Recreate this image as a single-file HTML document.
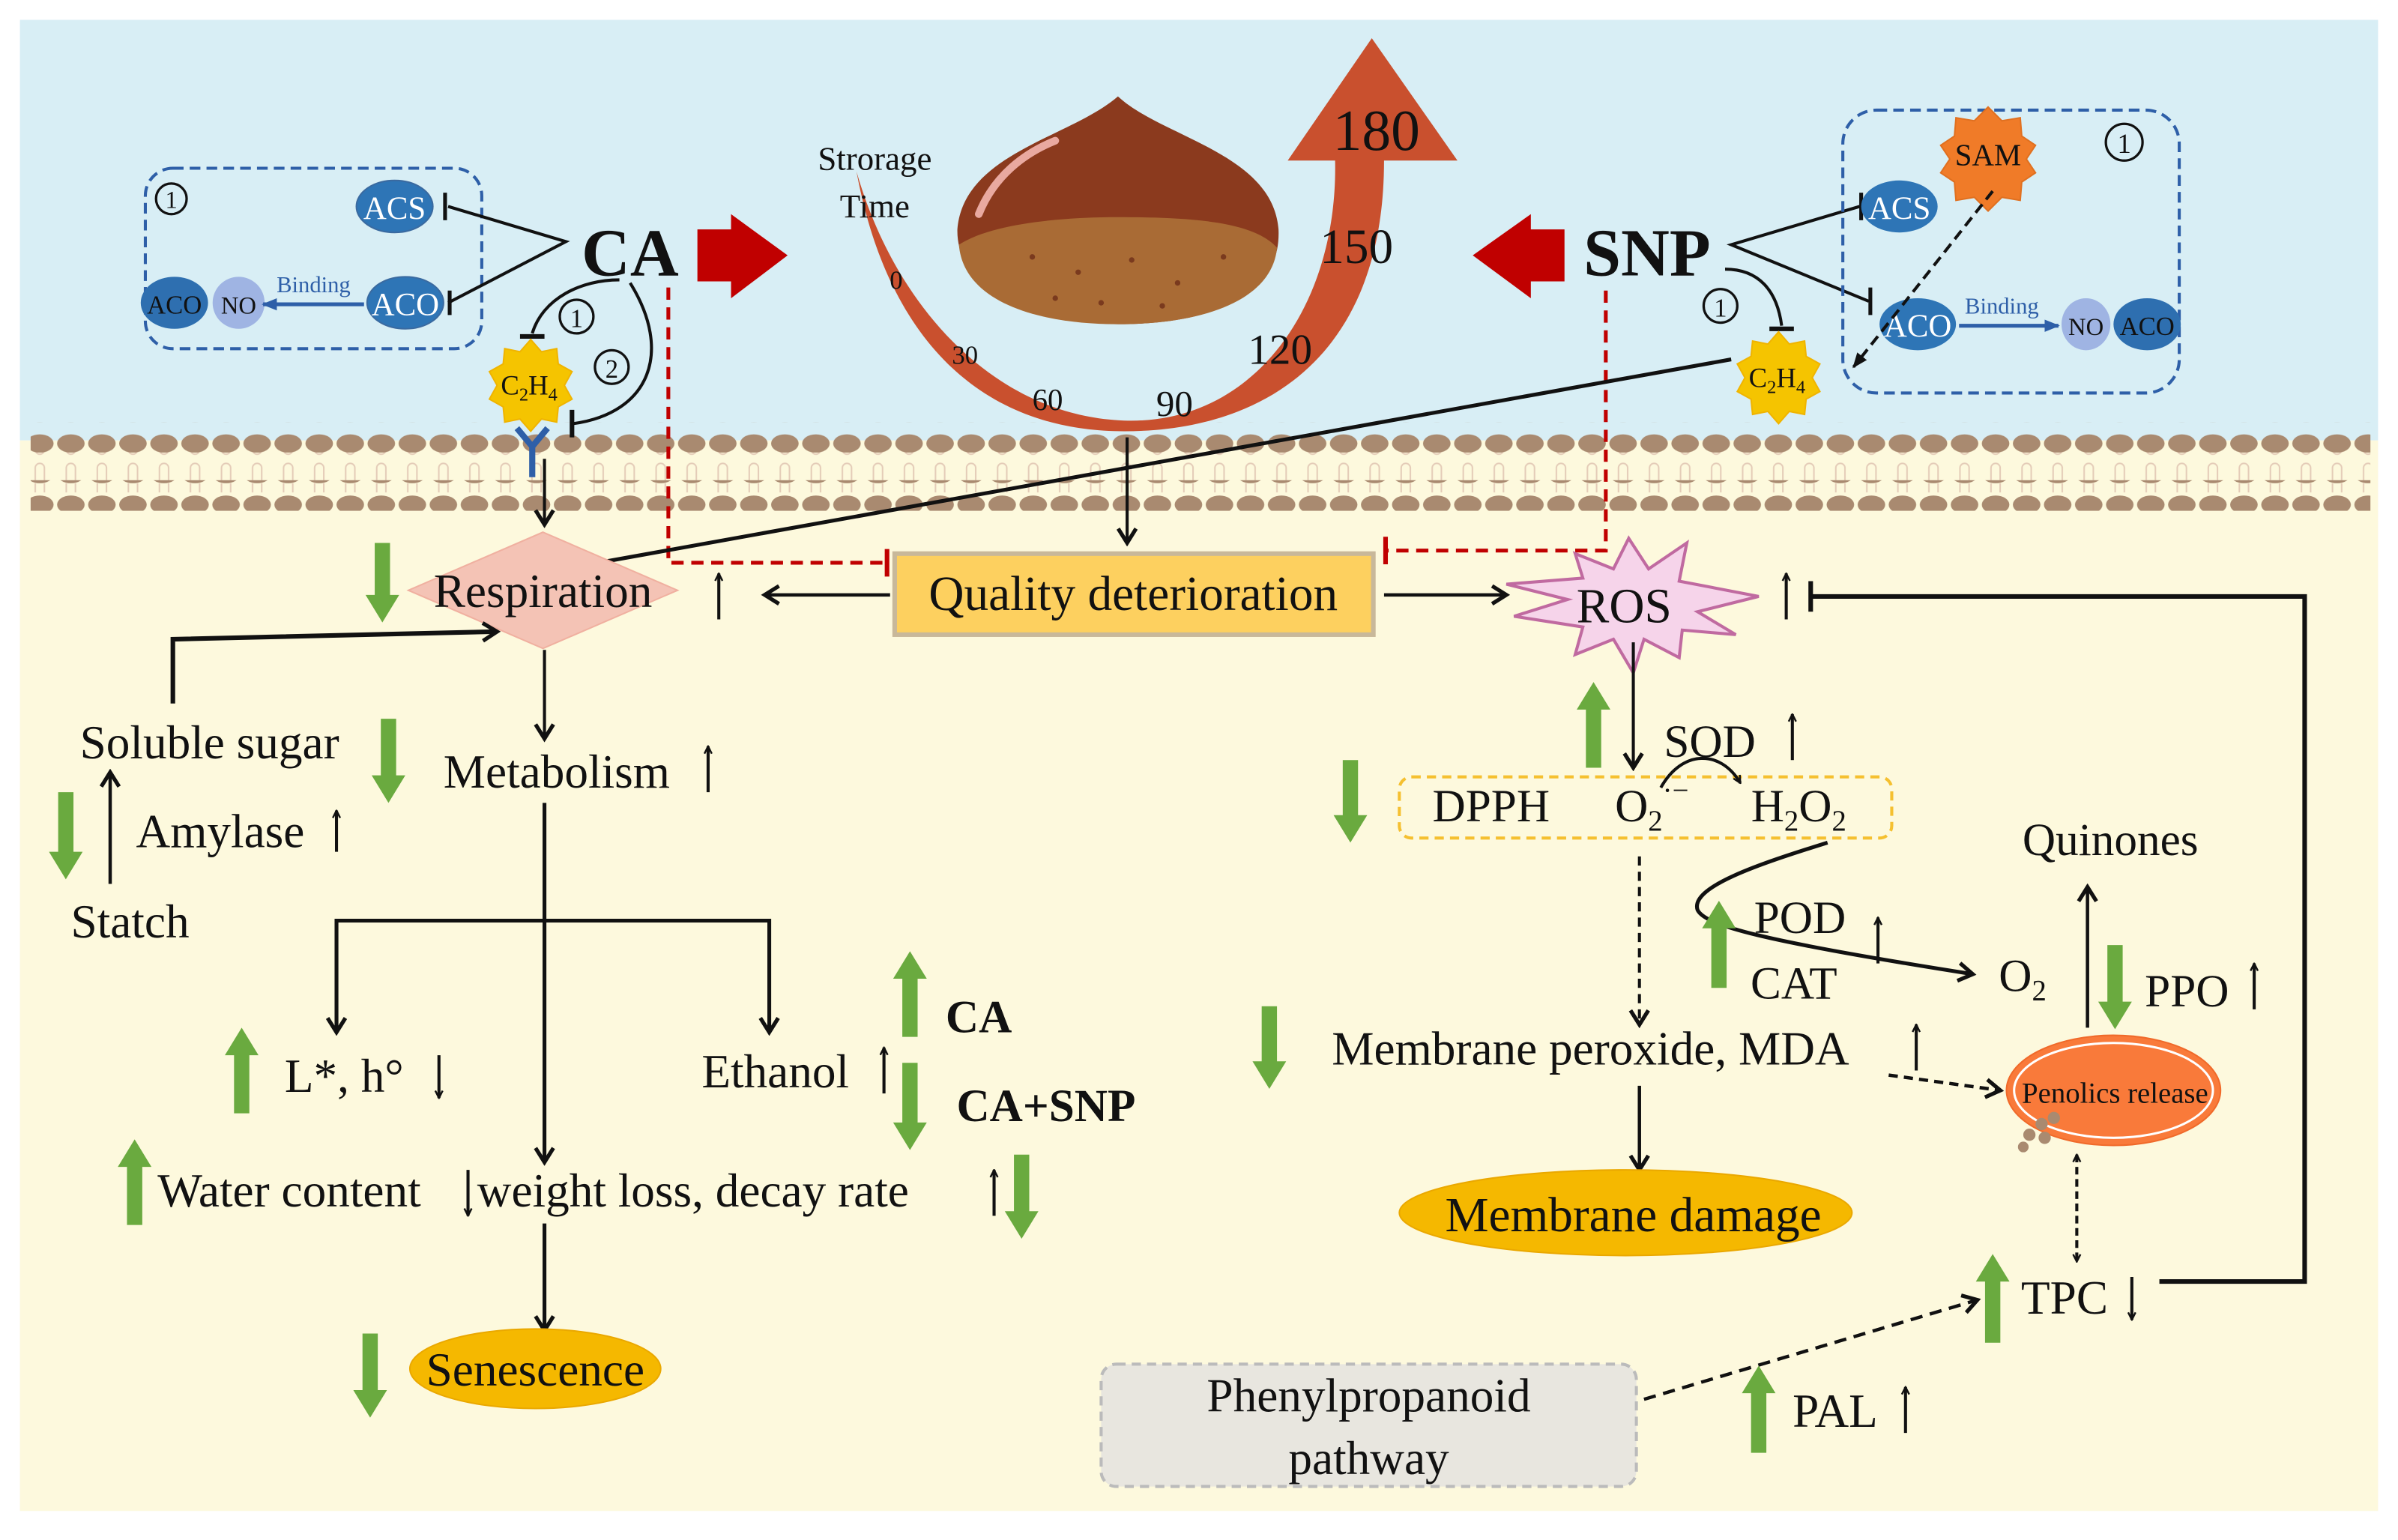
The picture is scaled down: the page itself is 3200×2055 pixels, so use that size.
<!DOCTYPE html>
<html><head><meta charset="utf-8"><style>
html,body{margin:0;padding:0;background:#fff}
svg{display:block;font-family:"Liberation Serif","Times New Roman",serif}
svg text{font-family:"Liberation Serif","Times New Roman",serif;fill:#111}
</style></head><body>
<svg width="3200" height="2055" viewBox="0 0 1568 1007" xmlns="http://www.w3.org/2000/svg" font-family="Liberation Serif, serif">
<defs>
<marker id="ah" viewBox="0 0 10 10" refX="9" refY="5" markerWidth="6" markerHeight="6" orient="auto-start-reverse" markerUnits="userSpaceOnUse"><path d="M1,1 L9,5 L1,9" fill="none" stroke="#111" stroke-width="2"/></marker>
<marker id="a" viewBox="0 0 12 12" refX="10" refY="6" markerWidth="14" markerHeight="14" orient="auto-start-reverse" markerUnits="userSpaceOnUse"><path d="M2,1 L10,6 L2,11" fill="none" stroke="#111" stroke-width="2.2"/></marker>
<marker id="ab" viewBox="0 0 10 10" refX="9" refY="5" markerWidth="10" markerHeight="10" orient="auto" markerUnits="userSpaceOnUse"><path d="M0,1 L10,5 L0,9 Z" fill="#2e5fa8"/></marker>
<marker id="af" viewBox="0 0 10 10" refX="9" refY="5" markerWidth="10" markerHeight="10" orient="auto" markerUnits="userSpaceOnUse"><path d="M0,1 L10,5 L0,9 Z" fill="#111"/></marker>
<pattern id="bead" x="16" y="0" width="20.3" height="20" patternUnits="userSpaceOnUse"><ellipse cx="10" cy="10" rx="9" ry="6" fill="#a98a70"/></pattern>
<pattern id="tail" x="16" y="0" width="20.3" height="30" patternUnits="userSpaceOnUse"><path d="M7,14 V6 A3,3 0 0 1 13,6 V14 M7,16 V24 A3,3 0 0 0 13,24 V16" fill="none" stroke="#e4ccb8" stroke-width="1"/></pattern>
</defs>
<rect x="0" y="0" width="1568" height="1007" fill="#fff"/>
<rect x="13" y="13" width="1542" height="275" fill="#d8eef5"/>
<rect x="13" y="288" width="1542" height="700" fill="#fdf9dd"/>
<rect x="20" y="292" width="1530" height="30" fill="url(#tail)"/>
<rect x="20" y="276" width="1530" height="20" fill="url(#bead)"/>
<rect x="20" y="314" width="1530" height="20" fill="url(#bead)"/>

<rect x="95" y="110" width="220" height="118" rx="18" fill="none" stroke="#2e5fa8" stroke-width="2" stroke-dasharray="7,4"/>
<circle cx="112" cy="130" r="10" fill="none" stroke="#111" stroke-width="1.6"/><text x="112" y="136" font-size="16" text-anchor="middle">1</text>
<ellipse cx="258" cy="135" rx="25" ry="17" fill="#2e75b6" stroke="#3a6aa0"/><text x="258" y="143" font-size="21" text-anchor="middle" style="fill:#fff">ACS</text>
<ellipse cx="265" cy="198" rx="25" ry="17" fill="#2e75b6" stroke="#3a6aa0"/><text x="265" y="206" font-size="21" text-anchor="middle" style="fill:#fff">ACO</text>
<ellipse cx="114" cy="198" rx="22" ry="17" fill="#2e6fb0"/><text x="114" y="205" font-size="17" text-anchor="middle">ACO</text>
<ellipse cx="156" cy="198" rx="17" ry="17" fill="#9fb4e3"/><text x="156" y="205" font-size="16" text-anchor="middle">NO</text>
<text x="205" y="191" font-size="15" text-anchor="middle" style="fill:#2e5fa8">Binding</text>
<line x1="238" y1="199" x2="172" y2="199" stroke="#2e5fa8" stroke-width="2.5" marker-end="url(#ab)"/>
<text x="412" y="180" font-size="44" font-weight="bold" text-anchor="middle">CA</text>
<polyline points="293,135 370,158 293,198" fill="none" stroke="#111" stroke-width="2"/>
<line x1="291" y1="126" x2="291" y2="144" stroke="#111" stroke-width="2.5"/>
<line x1="294" y1="190" x2="294" y2="206" stroke="#111" stroke-width="2.5"/>
<path d="M405,183 C380,183 355,195 348,218" fill="none" stroke="#111" stroke-width="2"/>
<line x1="340" y1="220" x2="356" y2="220" stroke="#111" stroke-width="3"/>
<circle cx="377" cy="207" r="11" fill="none" stroke="#111" stroke-width="1.6"/><text x="377" y="214" font-size="17" text-anchor="middle">1</text>
<circle cx="400" cy="240" r="11" fill="none" stroke="#111" stroke-width="1.6"/><text x="400" y="247" font-size="17" text-anchor="middle">2</text>
<path d="M412,185 C440,230 425,270 375,277" fill="none" stroke="#111" stroke-width="2"/>
<line x1="374" y1="268" x2="374" y2="286" stroke="#111" stroke-width="3"/>
<polygon points="347,222 354,230 364,228 365,238 374,243 369,252 374,261 365,266 364,276 354,274 347,282 340,274 330,276 329,266 320,261 325,252 320,243 329,238 330,228 340,230" fill="#f5c400" stroke="#f0b400"/>
<text x="346" y="258" font-size="18" text-anchor="middle">C<tspan font-size="12" dy="4">2</tspan><tspan dy="-4">H</tspan><tspan font-size="12" dy="4">4</tspan></text>
<path d="M338,280 L348,292 L358,280 M348,292 V312" fill="none" stroke="#2e5fa8" stroke-width="4"/>
<line x1="356" y1="300" x2="356" y2="343" stroke="#111" stroke-width="2" marker-end="url(#a)"/>
<polygon points="456,150 478,150 478,140 515,167 478,195 478,184 456,184" fill="#c00000"/>
<polyline points="437,188 437,368 578,368" fill="none" stroke="#c00000" stroke-width="2.5" stroke-dasharray="8,5"/>
<line x1="580" y1="359" x2="580" y2="377" stroke="#c00000" stroke-width="3"/>

<path d="M560,112 C585,200 650,272 735,275 C820,278 875,200 873,105 L842,105 L897,25 L953,105 L905,105 C905,230 830,282 735,282 C640,282 580,220 560,112 Z" fill="#c9502e"/>
<text x="572" y="111" font-size="22" text-anchor="middle">Strorage</text>
<text x="572" y="142" font-size="22" text-anchor="middle">Time</text>
<text x="586" y="189" font-size="17" text-anchor="middle">0</text>
<text x="631" y="238" font-size="17" text-anchor="middle">30</text>
<text x="685" y="268" font-size="20" text-anchor="middle">60</text>
<text x="768" y="272" font-size="24" text-anchor="middle">90</text>
<text x="837" y="238" font-size="28" text-anchor="middle">120</text>
<text x="887" y="172" font-size="32" text-anchor="middle">150</text>
<text x="900" y="98" font-size="38" text-anchor="middle">180</text>
<path d="M731,63 C700,90 630,100 626,150 C625,195 690,212 731,212 C790,212 838,195 836,150 C832,100 760,90 731,63 Z" fill="#8b3a1e"/>
<path d="M627,160 C650,145 700,142 731,142 C780,142 820,145 835,162 C832,195 790,212 731,212 C680,212 630,198 627,160 Z" fill="#a96b35"/>
<path d="M640,140 C650,115 670,100 690,92" stroke="#e9a9a0" stroke-width="5" fill="none" stroke-linecap="round"/>
<g fill="#7a3a1e"><circle cx="675" cy="168" r="1.8"/><circle cx="705" cy="178" r="1.8"/><circle cx="740" cy="170" r="1.8"/><circle cx="770" cy="185" r="1.8"/><circle cx="800" cy="168" r="1.8"/><circle cx="690" cy="195" r="1.8"/><circle cx="760" cy="200" r="1.8"/><circle cx="720" cy="198" r="1.8"/></g>
<line x1="737" y1="286" x2="737" y2="355" stroke="#111" stroke-width="2" marker-end="url(#a)"/>

<polygon points="1023,150 1001,150 1001,140 963,167 1001,195 1001,184 1023,184" fill="#c00000"/>
<text x="1077" y="180" font-size="44" font-weight="bold" text-anchor="middle">SNP</text>
<polyline points="1216,135 1132,160 1222,197" fill="none" stroke="#111" stroke-width="2"/>
<line x1="1217" y1="126" x2="1217" y2="144" stroke="#111" stroke-width="2.5"/>
<line x1="1223" y1="188" x2="1223" y2="206" stroke="#111" stroke-width="2.5"/>
<path d="M1128,176 C1150,176 1162,190 1165,213" fill="none" stroke="#111" stroke-width="2"/>
<line x1="1157" y1="215" x2="1173" y2="215" stroke="#111" stroke-width="3"/>
<circle cx="1125" cy="200" r="11" fill="none" stroke="#111" stroke-width="1.6"/><text x="1125" y="207" font-size="17" text-anchor="middle">1</text>
<polyline points="1050,190 1050,360 907,360" fill="none" stroke="#c00000" stroke-width="2.5" stroke-dasharray="8,5"/>
<line x1="906" y1="351" x2="906" y2="369" stroke="#c00000" stroke-width="3"/>
<rect x="1205" y="72" width="220" height="185" rx="22" fill="none" stroke="#2e5fa8" stroke-width="2" stroke-dasharray="7,4"/>
<polygon points="1300,70 1309,79 1321,77 1322,89 1331,95 1325,104 1331,113 1322,119 1321,131 1309,129 1300,138 1291,129 1279,131 1278,119 1269,113 1275,104 1269,95 1278,89 1279,77 1291,79" fill="#f07b28" stroke="#e07020"/>
<text x="1300" y="108" font-size="20" text-anchor="middle">SAM</text>
<circle cx="1389" cy="93" r="12" fill="none" stroke="#111" stroke-width="1.6"/><text x="1389" y="100" font-size="18" text-anchor="middle">1</text>
<ellipse cx="1242" cy="135" rx="25" ry="17" fill="#2e75b6"/><text x="1242" y="143" font-size="21" text-anchor="middle" style="fill:#fff">ACS</text>
<ellipse cx="1254" cy="212" rx="25" ry="17" fill="#2e75b6"/><text x="1254" y="220" font-size="21" text-anchor="middle" style="fill:#fff">ACO</text>
<text x="1309" y="205" font-size="15" text-anchor="middle" style="fill:#2e5fa8">Binding</text>
<line x1="1281" y1="213" x2="1346" y2="213" stroke="#2e5fa8" stroke-width="2.5" marker-end="url(#ab)"/>
<ellipse cx="1404" cy="212" rx="22" ry="17" fill="#2e6fb0"/><text x="1404" y="219" font-size="17" text-anchor="middle">ACO</text>
<ellipse cx="1364" cy="212" rx="16" ry="17" fill="#9fb4e3"/><text x="1364" y="219" font-size="16" text-anchor="middle">NO</text>
<line x1="1303" y1="125" x2="1212" y2="240" stroke="#111" stroke-width="2" stroke-dasharray="7,4" marker-end="url(#af)"/>
<polygon points="1163,217 1170,225 1180,223 1181,233 1190,238 1185,247 1190,256 1181,261 1180,271 1170,269 1163,277 1156,269 1146,271 1145,261 1136,256 1141,247 1136,238 1145,233 1146,223 1156,225" fill="#f5c400" stroke="#f0b400"/>
<text x="1162" y="253" font-size="18" text-anchor="middle">C<tspan font-size="12" dy="4">2</tspan><tspan dy="-4">H</tspan><tspan font-size="12" dy="4">4</tspan></text>
<line x1="1132" y1="235" x2="380" y2="370" stroke="#111" stroke-width="2.5" marker-end="url(#a)"/>

<polygon points="355,348 443,386 355,424 267,386" fill="#f4c3b5" stroke="#f0b0a0"/>
<text x="355" y="397" font-size="31" text-anchor="middle">Respiration</text>
<line x1="470" y1="405" x2="470" y2="375" stroke="#111" stroke-width="2" marker-end="url(#ah)"/>
<line x1="582" y1="389" x2="500" y2="389" stroke="#111" stroke-width="2.2" marker-end="url(#a)"/>
<rect x="585" y="362" width="313" height="53" fill="#fdd05f" stroke="#c8b89a" stroke-width="3"/>
<text x="741" y="399" font-size="32" text-anchor="middle">Quality deterioration</text>
<line x1="905" y1="389" x2="985" y2="389" stroke="#111" stroke-width="2.2" marker-end="url(#a)"/>
<polygon points="1065,352 1078,372 1103,355 1098,380 1150,390 1110,400 1135,415 1100,412 1098,430 1075,418 1068,440 1055,418 1030,428 1035,410 990,403 1025,392 985,382 1035,378 1030,362 1055,372" fill="#f6d4ea" stroke="#c06aa0" stroke-width="2"/>
<text x="1062" y="407" font-size="32" text-anchor="middle">ROS</text>
<line x1="1168" y1="405" x2="1168" y2="375" stroke="#111" stroke-width="2" marker-end="url(#ah)"/>
<polyline points="1184,390 1507,390 1507,838 1412,838" fill="none" stroke="#111" stroke-width="3"/>
<line x1="1184" y1="380" x2="1184" y2="400" stroke="#111" stroke-width="3"/>
<line x1="1068" y1="420" x2="1068" y2="502" stroke="#111" stroke-width="2" marker-end="url(#a)"/>
<text x="1118" y="495" font-size="30" text-anchor="middle">SOD</text>
<line x1="1172" y1="497" x2="1172" y2="467" stroke="#111" stroke-width="2" marker-end="url(#ah)"/>
<rect x="915" y="508" width="322" height="40" rx="8" fill="none" stroke="#f5c030" stroke-width="2" stroke-dasharray="6,4"/>
<text x="975" y="537" font-size="30" text-anchor="middle">DPPH</text>
<text x="1056" y="537" font-size="30">O<tspan font-size="19" dy="6">2</tspan><tspan font-size="19" dy="-20">·−</tspan></text>
<text x="1145" y="537" font-size="30">H<tspan font-size="19" dy="6">2</tspan><tspan dy="-6">O</tspan><tspan font-size="19" dy="6">2</tspan></text>
<path d="M1086,515 C1100,490 1125,490 1138,512" fill="none" stroke="#111" stroke-width="2" marker-end="url(#ah)"/>
<line x1="1072" y1="560" x2="1072" y2="670" stroke="#111" stroke-width="2" stroke-dasharray="6,4" marker-end="url(#a)"/>
<path d="M1195,551 C1150,565 1105,580 1110,595 C1115,605 1150,615 1290,637" fill="none" stroke="#111" stroke-width="2.5" marker-end="url(#a)"/>
<text x="1177" y="610" font-size="30" text-anchor="middle">POD</text>
<line x1="1228" y1="630" x2="1228" y2="600" stroke="#111" stroke-width="2" marker-end="url(#ah)"/>
<text x="1173" y="653" font-size="30" text-anchor="middle">CAT</text>
<text x="1307" y="648" font-size="30">O<tspan font-size="19" dy="6">2</tspan></text>
<text x="1380" y="559" font-size="30" text-anchor="middle">Quinones</text>
<line x1="1365" y1="672" x2="1365" y2="580" stroke="#111" stroke-width="2.2" marker-end="url(#a)"/>
<text x="1430" y="658" font-size="30" text-anchor="middle">PPO</text>
<line x1="1474" y1="660" x2="1474" y2="630" stroke="#111" stroke-width="2" marker-end="url(#ah)"/>
<text x="1040" y="696" font-size="31" text-anchor="middle">Membrane peroxide, MDA</text>
<line x1="1253" y1="700" x2="1253" y2="670" stroke="#111" stroke-width="2" marker-end="url(#ah)"/>
<line x1="1072" y1="710" x2="1072" y2="765" stroke="#111" stroke-width="2.2" marker-end="url(#a)"/>
<ellipse cx="1063" cy="793" rx="148" ry="28" fill="#f5b800" stroke="#eaa800"/>
<text x="1068" y="805" font-size="32" text-anchor="middle">Membrane damage</text>
<line x1="1235" y1="703" x2="1308" y2="713" stroke="#111" stroke-width="2.2" stroke-dasharray="6,4" marker-end="url(#a)"/>
<ellipse cx="1382" cy="713" rx="70" ry="36" fill="#f97a3a" stroke="#f06a2a"/>
<ellipse cx="1382" cy="713" rx="65" ry="31" fill="none" stroke="#fff" stroke-width="1.5"/>
<text x="1383" y="721" font-size="19" text-anchor="middle">Penolics release</text>
<g fill="#a98a70"><circle cx="1335" cy="735" r="4"/><circle cx="1343" cy="731" r="4"/><circle cx="1327" cy="742" r="4"/><circle cx="1337" cy="744" r="4"/><circle cx="1323" cy="750" r="3.5"/></g>
<line x1="1358" y1="755" x2="1358" y2="825" stroke="#111" stroke-width="2" stroke-dasharray="5,3" marker-start="url(#ah)" marker-end="url(#ah)"/>
<text x="1350" y="859" font-size="31" text-anchor="middle">TPC</text>
<line x1="1394" y1="835" x2="1394" y2="863" stroke="#111" stroke-width="2" marker-end="url(#ah)"/>
<rect x="720" y="892" width="350" height="80" rx="10" fill="#e8e6df" stroke="#bbb" stroke-width="2" stroke-dasharray="6,4"/>
<text x="895" y="923" font-size="31" text-anchor="middle">Phenylpropanoid</text>
<text x="895" y="964" font-size="31" text-anchor="middle">pathway</text>
<line x1="1075" y1="915" x2="1293" y2="850" stroke="#111" stroke-width="2.2" stroke-dasharray="8,5" marker-end="url(#a)"/>
<text x="1200" y="933" font-size="31" text-anchor="middle">PAL</text>
<line x1="1246" y1="937" x2="1246" y2="907" stroke="#111" stroke-width="2" marker-end="url(#ah)"/>

<polyline points="113,460 113,418 325,413" fill="none" stroke="#111" stroke-width="3" marker-end="url(#a)"/>
<text x="137" y="496" font-size="31" text-anchor="middle">Soluble sugar</text>
<line x1="356" y1="425" x2="356" y2="483" stroke="#111" stroke-width="2" marker-end="url(#a)"/>
<text x="364" y="515" font-size="31" text-anchor="middle">Metabolism</text>
<line x1="463" y1="518" x2="463" y2="488" stroke="#111" stroke-width="2" marker-end="url(#ah)"/>
<line x1="72" y1="578" x2="72" y2="505" stroke="#111" stroke-width="2.2" marker-end="url(#a)"/>
<text x="144" y="554" font-size="31" text-anchor="middle">Amylase</text>
<line x1="220" y1="557" x2="220" y2="530" stroke="#111" stroke-width="2" marker-end="url(#ah)"/>
<text x="85" y="613" font-size="31" text-anchor="middle">Statch</text>
<line x1="356" y1="525" x2="356" y2="760" stroke="#111" stroke-width="2.5" marker-end="url(#a)"/>
<polyline points="220,675 220,602 503,602 503,675" fill="none" stroke="#111" stroke-width="2.5" marker-start="url(#a)" marker-end="url(#a)"/>
<text x="225" y="714" font-size="31" text-anchor="middle">L*, h°</text>
<line x1="287" y1="690" x2="287" y2="718" stroke="#111" stroke-width="2" marker-end="url(#ah)"/>
<text x="507" y="711" font-size="31" text-anchor="middle">Ethanol</text>
<line x1="578" y1="715" x2="578" y2="685" stroke="#111" stroke-width="2" marker-end="url(#ah)"/>
<text x="640" y="675" font-size="30" font-weight="bold" text-anchor="middle">CA</text>
<text x="684" y="733" font-size="30" font-weight="bold" text-anchor="middle">CA+SNP</text>
<text x="103" y="789" font-size="31">Water content</text>
<line x1="306" y1="765" x2="306" y2="795" stroke="#111" stroke-width="2" marker-end="url(#ah)"/>
<text x="312" y="789" font-size="31">weight loss, decay rate</text>
<line x1="650" y1="795" x2="650" y2="765" stroke="#111" stroke-width="2" marker-end="url(#ah)"/>
<line x1="356" y1="800" x2="356" y2="870" stroke="#111" stroke-width="2.5" marker-end="url(#a)"/>
<ellipse cx="350" cy="895" rx="82" ry="26" fill="#f5b800" stroke="#eaa800"/>
<text x="350" y="906" font-size="31" text-anchor="middle">Senescence</text>

<g fill="#6aaa3f">
<polygon points="245,355 255,355 255,389 261,389 250,407 239,389 245,389"/>
<polygon points="249,470 259,470 259,507 265,507 254,525 243,507 249,507"/>
<polygon points="38,518 48,518 48,557 54,557 43,575 32,557 38,557"/>
<polygon points="590,695 600,695 600,734 606,734 595,752 584,734 590,734"/>
<polygon points="663,755 673,755 673,792 679,792 668,810 657,792 663,792"/>
<polygon points="237,872 247,872 247,909 253,909 242,927 231,909 237,909"/>
<polygon points="878,497 888,497 888,533 894,533 883,551 872,533 878,533"/>
<polygon points="825,658 835,658 835,694 841,694 830,712 819,694 825,694"/>
<polygon points="1378,618 1388,618 1388,655 1394,655 1383,673 1372,655 1378,655"/>
<polygon points="158,672 169,690 163,690 163,728 153,728 153,690 147,690"/>
<polygon points="595,622 606,640 600,640 600,678 590,678 590,640 584,640"/>
<polygon points="88,745 99,763 93,763 93,801 83,801 83,763 77,763"/>
<polygon points="1042,446 1053,464 1047,464 1047,502 1037,502 1037,464 1031,464"/>
<polygon points="1124,589 1135,607 1129,607 1129,646 1119,646 1119,607 1113,607"/>
<polygon points="1303,820 1314,838 1308,838 1308,878 1298,878 1298,838 1292,838"/>
<polygon points="1150,893 1161,911 1155,911 1155,950 1145,950 1145,911 1139,911"/>
</g>
</svg>
</body></html>
